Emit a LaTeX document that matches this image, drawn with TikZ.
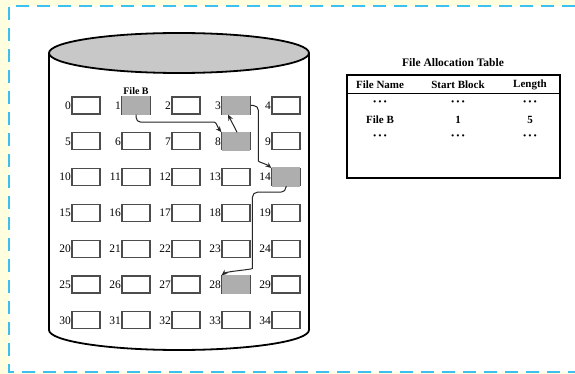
\documentclass[tikz,border=0pt]{standalone}
\usepackage{fontspec}
\setmainfont{Liberation Serif}
\usetikzlibrary{positioning,calc,arrows.meta}
\definecolor{cream}{HTML}{FFFFE0}
\definecolor{frameblue}{HTML}{3CC0EE}
\definecolor{topgray}{HTML}{C8C8C8}
\definecolor{usedgray}{HTML}{AEAEAE}
\begin{document}
\begin{tikzpicture}[x=1pt, y=-1pt,
    blk/.style={draw=black!70, line width=1.1pt, minimum width=28pt, minimum height=17pt, inner sep=0pt},
    num/.style={font=\fontsize{11.5}{13}\selectfont, inner sep=0.3pt, anchor=east},
    link/.style={-{Stealth[length=6pt,width=5pt]}, black!85, line width=1pt},
    fat/.style={font=\bfseries\fontsize{11}{13}\selectfont, inner sep=1pt},
    dots/.style={font=\bfseries\fontsize{8}{9}\selectfont, inner sep=1pt}]
    \useasboundingbox (0,0) rectangle (575,374);

    % Fondo y marco punteado
    \fill[cream] (0,0) rectangle (575,374);
    \fill[white] (9,6) rectangle (575,372);
    \draw[frameblue, line width=2pt, dash pattern=on 13pt off 8pt] (575,6) -- (9,6) -- (9,372) -- (575,372);

    % Disco (cilindro)
    \draw[line width=1.8pt] (49,53) -- (49,330)
          .. controls (49,341) and (107,350) .. (179,350)
          .. controls (251,350) and (309,341) .. (309,330) -- (309,53);
    \draw[fill=topgray, line width=1.8pt] (179,53) ellipse [x radius=130pt, y radius=20pt];

    % Bloques 0..34
    \foreach \r in {0,...,6} {
        \foreach \c in {0,...,4} {
            \pgfmathtruncatemacro{\n}{5*\r+\c}
            \node[blk] (b\n) at ({86+50*\c}, {105.5+35.8*\r}) {};
            \node[num] (l\n) at (b\n.west) {\n};
        }
    }

    % Bloques ocupados por File B
    \foreach \n in {1,3,8,14,28}
        \fill[usedgray] ([shift={(0.6pt,-0.6pt)}]b\n.south west) rectangle ([shift={(-0.6pt,0.6pt)}]b\n.north east);
    \node[fat, font=\bfseries\fontsize{10}{12}\selectfont, above=1pt of b1] (fileb) {File B};

    % Cadena de bloques
    \draw[link, rounded corners=5pt] (b1.south) |- ($(b8.north west)+(-12,-10)$)
          .. controls +(7,0) and +(-4,-5) .. (b8.north west);
    \draw[link] ([xshift=1pt]b8.north) -- ([xshift=-8pt]b3.south);
    \draw[link, rounded corners=5pt] (b3.east) -| ($(b14.north west)+(-13,-12)$)
          .. controls +(0,6) and +(-5,-4) .. (b14.north west);
    \draw[link, rounded corners=5pt] (b14.south) -- ++(0,6) -| ($(b28.north west)+(31,-12)$)
          .. controls +(0,6) and +(5,-4) .. (b28.north west);

    % Tabla de asignación de archivos
    \node[fat, font=\bfseries\fontsize{11.5}{13}\selectfont] (title) at (453,63) {File Allocation Table};
    \draw[line width=1.2pt] (347,75) rectangle (560,178);
    \draw[line width=1.6pt] (347,75) -- (347,178);
    \draw[line width=0.7pt] (347,93) -- (560,93);
    \node[fat] (hname) at (380,85) {File Name};
    \node[fat] (hstart) at (458,85) {Start Block};
    \node[fat] (hlen) at (530,85) {Length};
    \foreach \x/\k in {380/a, 458/b, 530/c} {
        \node[dots] (top\k) at (\x,103) {\textbullet\hspace{2.5pt}\textbullet\hspace{2.5pt}\textbullet};
        \node[dots] (bot\k) at (\x,137) {\textbullet\hspace{2.5pt}\textbullet\hspace{2.5pt}\textbullet};
    }
    \node[fat] (rname) at (380,120) {File B};
    \node[fat] (rstart) at (458,120) {1};
    \node[fat] (rlen) at (530,120) {5};
\end{tikzpicture}
\end{document}
